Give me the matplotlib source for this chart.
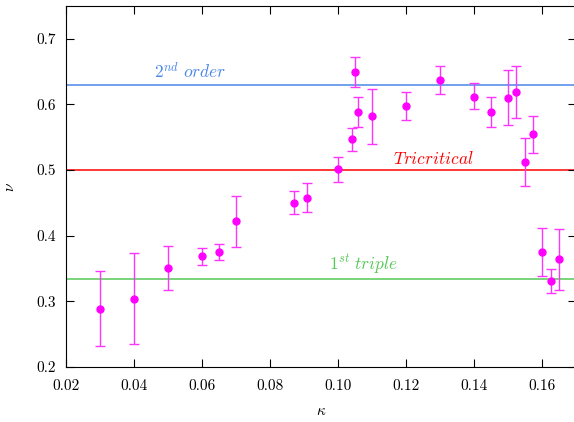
import matplotlib
matplotlib.use("Agg")
import matplotlib.pyplot as plt

plt.rcParams["font.family"] = "serif"
plt.rcParams["font.serif"] = ["cmr10"]
plt.rcParams["mathtext.fontset"] = "cm"
plt.rcParams["axes.formatter.use_mathtext"] = True

kappa = [0.03, 0.04, 0.05, 0.06, 0.065, 0.07, 0.087, 0.091, 0.10, 0.104,
         0.105, 0.106, 0.11, 0.12, 0.13, 0.14, 0.145, 0.15, 0.1525, 0.155,
         0.1575, 0.16, 0.1625, 0.165]
nu = [0.289, 0.304, 0.351, 0.369, 0.375, 0.422, 0.450, 0.458, 0.501, 0.547,
      0.650, 0.589, 0.582, 0.597, 0.637, 0.612, 0.588, 0.610, 0.619, 0.512,
      0.555, 0.375, 0.331, 0.364]
nu_hi = [0.346, 0.374, 0.385, 0.382, 0.388, 0.461, 0.468, 0.480, 0.520, 0.564,
         0.672, 0.611, 0.624, 0.619, 0.658, 0.632, 0.611, 0.652, 0.658, 0.549,
         0.583, 0.412, 0.349, 0.411]
nu_lo = [0.232, 0.235, 0.317, 0.355, 0.363, 0.383, 0.433, 0.436, 0.482, 0.529,
         0.626, 0.566, 0.539, 0.576, 0.616, 0.593, 0.565, 0.568, 0.580, 0.476,
         0.526, 0.339, 0.313, 0.317]

ref_vals = [0.63, 0.5, 1 / 3]
ref_colors = ["#4a86e8", "#ff0000", "#55c855"]
ref_labels = [r"$2^{nd}\ order$", r"$Tricritical$", r"$1^{st}\ triple$"]
label_x = [0.0565, 0.128, 0.1075]

fig = plt.figure(figsize=(5.74, 4.22), dpi=100)
ax = fig.add_axes([66 / 574, 55 / 422, 510 / 574, 361 / 422])

for v, c in zip(ref_vals, ref_colors):
    ax.axhline(v, color=c, lw=1.1, zorder=1)
for v, c, t, x in zip(ref_vals, ref_colors, ref_labels, label_x):
    ax.text(x, v + 0.005, t, color=c, fontsize=12.5, ha="center", va="bottom")

yerr = [[n - l for n, l in zip(nu, nu_lo)], [h - n for n, h in zip(nu, nu_hi)]]
ax.errorbar(kappa, nu, yerr=yerr, fmt="o", color="#ff00ff", ecolor="#ff33ff",
            ms=5, elinewidth=1.0, capsize=3.5, capthick=1.0, zorder=3)

ax.set_xlim(0.02, 0.17)
ax.set_ylim(0.2, 0.75)
ax.set_xticks([0.02, 0.04, 0.06, 0.08, 0.10, 0.12, 0.14, 0.16])
ax.set_xticklabels(["0.02", "0.04", "0.06", "0.08", "0.10", "0.12", "0.14", "0.16"])
ax.set_yticks([0.2, 0.3, 0.4, 0.5, 0.6, 0.7])
ax.set_yticklabels(["0.2", "0.3", "0.4", "0.5", "0.6", "0.7"])
ax.tick_params(axis="x", pad=9)
ax.tick_params(axis="y", pad=7)
ax.tick_params(direction="in", top=True, right=True, labelsize=11, length=6, width=0.8)
ax.set_xlabel(r"$\kappa$", fontsize=11, labelpad=8)
ax.set_ylabel(r"$\nu$", fontsize=11, labelpad=14)

fig.savefig("out.png", dpi=100)
